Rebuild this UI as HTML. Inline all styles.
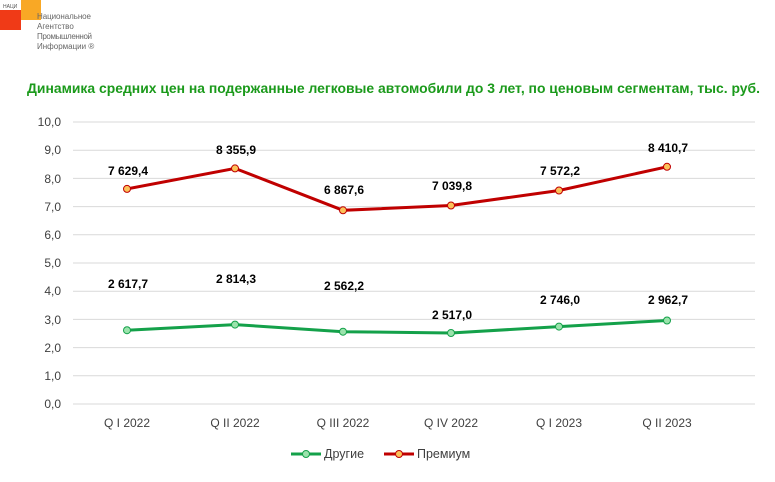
<!DOCTYPE html>
<html><head><meta charset="utf-8"><style>
body{margin:0;background:#fff;width:775px;height:477px;overflow:hidden}
svg text{font-family:"Liberation Sans","DejaVu Sans",sans-serif}
</style></head><body>
<svg width="775" height="477" viewBox="0 0 775 477" xmlns="http://www.w3.org/2000/svg">
<rect x="0" y="10" width="21" height="20" fill="#f03a17"/>
<rect x="21" y="0" width="20" height="20" fill="#f9a825"/>
<text x="3" y="8" font-size="5" fill="#555">НАЦИ</text>
<g font-size="8" fill="#666">
<text x="37" y="19" textLength="54">Национальное</text>
<text x="37" y="29">Агентство</text>
<text x="37" y="39" textLength="55">Промышленной</text>
<text x="37" y="49">Информации ®</text>
</g>
<text x="27" y="93" textLength="733" lengthAdjust="spacingAndGlyphs" font-size="14" font-weight="bold" fill="#1b9a1b">Динамика средних цен на подержанные легковые автомобили до 3 лет, по ценовым сегментам, тыс. руб.</text>
<g stroke="#d9d9d9" stroke-width="1">
<line x1="73" x2="755" y1="122" y2="122"/><line x1="73" x2="755" y1="150.2" y2="150.2"/><line x1="73" x2="755" y1="178.4" y2="178.4"/><line x1="73" x2="755" y1="206.6" y2="206.6"/><line x1="73" x2="755" y1="234.8" y2="234.8"/><line x1="73" x2="755" y1="263" y2="263"/><line x1="73" x2="755" y1="291.2" y2="291.2"/><line x1="73" x2="755" y1="319.4" y2="319.4"/><line x1="73" x2="755" y1="347.6" y2="347.6"/><line x1="73" x2="755" y1="375.8" y2="375.8"/><line x1="73" x2="755" y1="404" y2="404"/>
</g>
<g font-size="12" fill="#404040" text-anchor="end">
<text x="61" y="126">10,0</text><text x="61" y="154">9,0</text><text x="61" y="183">8,0</text><text x="61" y="211">7,0</text><text x="61" y="239">6,0</text><text x="61" y="267">5,0</text><text x="61" y="295">4,0</text><text x="61" y="324">3,0</text><text x="61" y="352">2,0</text><text x="61" y="380">1,0</text><text x="61" y="408">0,0</text>
</g>
<g font-size="12" fill="#404040" text-anchor="middle">
<text x="127" y="427">Q I 2022</text><text x="235" y="427">Q II 2022</text><text x="343" y="427">Q III 2022</text><text x="451" y="427">Q IV 2022</text><text x="559" y="427">Q I 2023</text><text x="667" y="427">Q II 2023</text>
</g>
<polyline points="127,330.2 235,324.6 343,331.7 451,333 559,326.6 667,320.5" fill="none" stroke="#14a14a" stroke-width="3"/>
<polyline points="127,188.9 235,168.4 343,210.3 451,205.5 559,190.5 667,166.8" fill="none" stroke="#c00000" stroke-width="3"/>
<g fill="#9be3ac" stroke="#14a14a" stroke-width="1">
<circle cx="127" cy="330.2" r="3.5"/><circle cx="235" cy="324.6" r="3.5"/><circle cx="343" cy="331.7" r="3.5"/><circle cx="451" cy="333" r="3.5"/><circle cx="559" cy="326.6" r="3.5"/><circle cx="667" cy="320.5" r="3.5"/>
</g>
<g fill="#fbc25a" stroke="#c00000" stroke-width="1">
<circle cx="127" cy="188.9" r="3.5"/><circle cx="235" cy="168.4" r="3.5"/><circle cx="343" cy="210.3" r="3.5"/><circle cx="451" cy="205.5" r="3.5"/><circle cx="559" cy="190.5" r="3.5"/><circle cx="667" cy="166.8" r="3.5"/>
</g>
<g font-size="12" font-weight="bold" fill="#000" text-anchor="middle">
<text x="128" y="175">7 629,4</text><text x="236" y="154">8 355,9</text><text x="344" y="194">6 867,6</text><text x="452" y="190">7 039,8</text><text x="560" y="175">7 572,2</text><text x="668" y="152">8 410,7</text>
<text x="128" y="288">2 617,7</text><text x="236" y="283">2 814,3</text><text x="344" y="290">2 562,2</text><text x="452" y="319">2 517,0</text><text x="560" y="304">2 746,0</text><text x="668" y="304">2 962,7</text>
</g>
<line x1="291" x2="321" y1="454" y2="454" stroke="#14a14a" stroke-width="3"/>
<circle cx="306" cy="454" r="3.5" fill="#9be3ac" stroke="#14a14a"/>
<text x="324" y="458" font-size="12.5" fill="#404040">Другие</text>
<line x1="384" x2="414" y1="454" y2="454" stroke="#c00000" stroke-width="3"/>
<circle cx="399" cy="454" r="3.5" fill="#fbc25a" stroke="#c00000"/>
<text x="417" y="458" font-size="12.5" fill="#404040">Премиум</text>
</svg>
</body></html>
